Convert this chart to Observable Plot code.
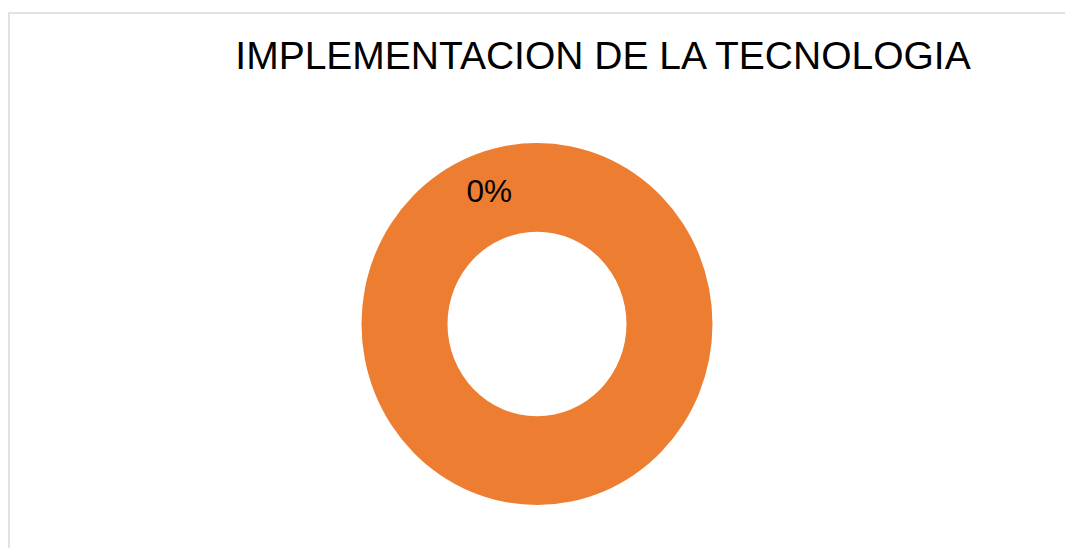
<!DOCTYPE html>
<html>
<head>
<meta charset="utf-8">
<script src="https://cdn.jsdelivr.net/npm/d3@7"></script>
<script src="https://cdn.jsdelivr.net/npm/@observablehq/plot@0.6"></script>
<style>
  html, body { margin: 0; padding: 0; background: #fff; }
  #chart { width: 1065px; height: 548px; }
</style>
</head>
<body>
<div id="chart"></div>
<script>
const title = "IMPLEMENTACION DE LA TECNOLOGIA";
const categories = ["SI", "NO"];
const percents = [0, 100];
const colors = ["#4472C4", "#ED7D31"];
const labelText = ["0%", null];

const W = 1065, H = 548;
const innerRatio = 0.51;

const pie = d3.pie().sort(null).value(d => d.value)(
  categories.map((c, i) => ({category: c, value: percents[i], color: colors[i], label: labelText[i]}))
);

function donutMark(index, scales, values, dimensions) {
  const cx = scales.x(0), cy = scales.y(0);
  const rx = scales.x(1) - cx;
  const ry = scales.y(-1) - cy;
  const g = d3.create("svg:g").attr("transform", `translate(${cx},${cy}) scale(1,${ry / rx})`);
  const arc = d3.arc().innerRadius(rx * innerRatio).outerRadius(rx);
  g.selectAll("path").data(pie.filter(d => d.data.value > 0)).join("path")
    .attr("d", arc).attr("fill", d => d.data.color);
  return g.node();
}

function borderMark(index, scales, values, dimensions) {
  const p = d3.create("svg:path")
    .attr("d", `M9,${H + 5}V13H${W + 5}`)
    .attr("fill", "none").attr("stroke", "#D9D9D9").attr("stroke-width", 1.5);
  return p.node();
}

// label positions derived from the slice angle with a small nudge like the original
const nudge = -0.36;
const labelR = 0.78;
const labels = pie.filter(d => d.data.label).map(d => {
  const a = (d.startAngle + d.endAngle) / 2 + nudge;
  return {x: labelR * Math.sin(a), y: labelR * Math.cos(a), text: d.data.label};
});

const chart = Plot.plot({
  width: W,
  height: H,
  margin: 0,
  style: {fontFamily: "'Liberation Sans', Arial, sans-serif", background: "#fff"},
  x: {domain: [-1, 1], range: [361.5, 712.5], axis: null},
  y: {domain: [-1, 1], range: [505, 143], axis: null},
  marks: [
    borderMark,
    donutMark,
    Plot.text(labels, {x: "x", y: "y", text: "text", fontSize: 31.5, fill: "#000", lineAnchor: "middle"}),
    Plot.text([title], {frameAnchor: "top-left", dx: 602.5, dy: 56, text: d => d, fontSize: 39, fill: "#000", textAnchor: "middle", lineAnchor: "middle"})
  ]
});
document.getElementById("chart").appendChild(chart);
</script>
</body>
</html>
